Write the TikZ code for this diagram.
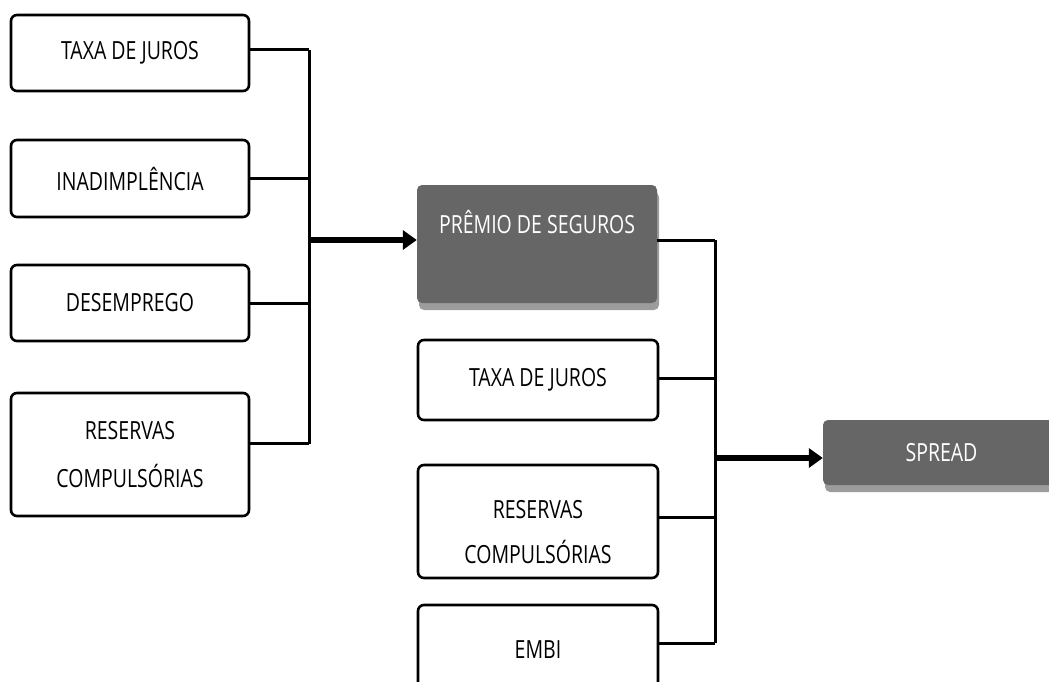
\documentclass[tikz,border=0pt]{standalone}
\usepackage{fontspec}
\setmainfont{Open Sans}[FakeStretch=0.78]
\usetikzlibrary{arrows.meta,shadows}
\definecolor{boxgray}{HTML}{666666}
\definecolor{shadowgray}{HTML}{9C9C9C}
\newcommand{\lblfont}{\fontsize{25}{29}\selectfont}
\tikzset{
  wbox/.style={draw, line width=2.6pt, rounded corners=6pt, fill=white,
    minimum width=238pt, inner sep=0pt, align=center, font=\lblfont},
  gbox/.style={fill=boxgray, rounded corners=5pt, text=white, inner sep=0pt,
    font=\lblfont, align=center,
    drop shadow={shadow xshift=2pt, shadow yshift=-7pt, fill=shadowgray, opacity=1}},
  link/.style={line width=3pt},
  bigarrow/.style={line width=5.5pt, -{Triangle[length=14pt,width=19pt]}},
}
\begin{document}
\begin{tikzpicture}[x=1pt,y=-1pt]
\useasboundingbox (0,0) rectangle (1049,682);
\clip (0,0) rectangle (1049,682);
% left column
\node[wbox, minimum height=76pt] (l1) at (130,53) {TAXA DE JUROS};
\node[wbox, minimum height=77pt] (l2) at (130,178.5) {INADIMPLÊNCIA};
\node[wbox, minimum height=76pt] (l3) at (130,303) {DESEMPREGO};
\node[wbox, minimum height=123pt] (l4) at (130,454.5) {RESERVAS\\[19pt]COMPULSÓRIAS};
\coordinate (busL) at (309,0);
\coordinate (jL) at (309,240);
\draw[link] ([yshift=3pt]l1.east) -- ([yshift=3pt]l1.east -| busL);
\draw[link] (l2.east) -- (l2.east -| busL);
\draw[link] (l3.east) -- (l3.east -| busL);
\draw[link] ([yshift=11pt]l4.east) -- ([yshift=11pt]l4.east -| busL);
\draw[link] ([yshift=3pt]l1.east -| busL) -- ([yshift=11pt]l4.east -| busL);
% middle
\node[gbox, minimum width=240pt, minimum height=118pt,
  label={[yshift=-37pt, anchor=center, text=white, font=\lblfont]north:PRÊMIO DE SEGUROS}] (prem) at (537,244) {};
\draw[bigarrow] (jL) -- (jL -| prem.west);
\node[wbox, minimum width=240pt, minimum height=80pt] (r1) at (538,380) {TAXA DE JUROS};
\node[wbox, minimum width=240pt, minimum height=113pt,
  label={[yshift=-11pt, align=center, font=\lblfont]center:RESERVAS\\[16pt]COMPULSÓRIAS}] (r2) at (538,521.5) {};
\node[wbox, minimum width=240pt, minimum height=90pt] (r3) at (538,650) {EMBI};
\coordinate (busR) at (715,0);
\coordinate (jR) at (715,458);
\draw[link] ([yshift=4pt]prem.east) -- ([yshift=4pt]prem.east -| busR);
\draw[link] ([yshift=2pt]r1.east) -- ([yshift=2pt]r1.east -| busR);
\draw[link] ([yshift=4pt]r2.east) -- ([yshift=4pt]r2.east -| busR);
\draw[link] ([yshift=7pt]r3.east) -- ([yshift=7pt]r3.east -| busR);
\draw[link] ([yshift=4pt]prem.east -| busR) -- ([yshift=7pt]r3.east -| busR);
% right
\node[gbox, minimum width=237pt, minimum height=65pt] (spread) at (941.5,452.5) {SPREAD};
\draw[bigarrow] (jR) -- (jR -| spread.west);
\end{tikzpicture}
\end{document}
